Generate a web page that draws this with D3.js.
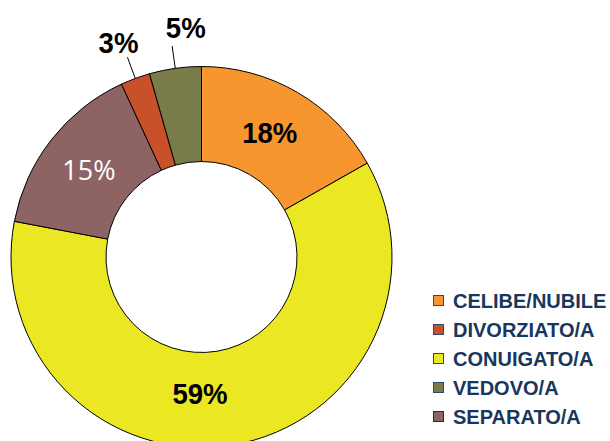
<!DOCTYPE html>
<html>
<head>
<meta charset="utf-8">
<script src="https://cdn.jsdelivr.net/npm/d3@7"></script>
<style>
  body { margin: 0; background: #fff; }
  svg { display: block; }
</style>
</head>
<body>
<svg width="610" height="441"></svg>
<script>
// slices in drawing order (clockwise from 12 o'clock)
const sliceNames = ['CELIBE/NUBILE', 'CONUIGATO/A', 'SEPARATO/A', 'DIVORZIATO/A', 'VEDOVO/A'];
const sliceValues = [16.8, 61.2, 15.1, 2.5, 4.4];
const sliceLabels = ['18%', '59%', '15%', '3%', '5%'];
const sliceColors = ['#F7962F', '#EBE823', '#8E6364', '#C8512A', '#797B48'];

// legend order as in the picture
const legendNames = ['CELIBE/NUBILE', 'DIVORZIATO/A', 'CONUIGATO/A', 'VEDOVO/A', 'SEPARATO/A'];

const svg = d3.select('svg');
const cx = 201.5, cy = 257;
const outerR = 190.5, innerR = 95.5;

const color = d3.scaleOrdinal().domain(sliceNames).range(sliceColors);

const pie = d3.pie().sort(null).value(d => d.value);
const arc = d3.arc().innerRadius(innerR).outerRadius(outerR);

const data = sliceNames.map((n, i) => ({ name: n, value: sliceValues[i], label: sliceLabels[i] }));
const arcs = pie(data);

const g = svg.append('g').attr('transform', `translate(${cx},${cy})`);

g.selectAll('path.slice')
    .data(arcs)
    .enter().append('path')
    .attr('class', 'slice')
    .attr('d', arc)
    .attr('fill', d => color(d.data.name))
    .attr('stroke', '#000')
    .attr('stroke-width', 1);

// label tweaks (degrees) and styles
const labelShift = [-1.5, 10, -0.4, -0.8, 4];
const pt = (a, r) => [Math.sin(a) * r, -Math.cos(a) * r];
const rad = Math.PI / 180;

const addLabel = (p, txt, opts) => {
    g.append('text')
        .attr('transform', `translate(${p[0]},${p[1]}) scale(${opts.sx},1)`)
        .attr('dy', '0.36em')
        .attr('text-anchor', 'middle')
        .style('font-family', opts.family)
        .style('font-weight', opts.weight)
        .style('font-size', opts.size)
        .attr('fill', opts.fill)
        .text(txt);
};

const boldOpts = { sx: 0.92, family: '"Liberation Sans", Arial, sans-serif', weight: 'bold', size: '30px', fill: '#000' };

arcs.forEach((d, i) => {
    const mid = (d.startAngle + d.endAngle) / 2;
    const outside = d.data.value < 10;
    const a = mid + labelShift[i] * rad;
    if (outside) {
        const p0 = pt(mid, outerR);
        const p1 = pt(mid, 213);
        g.append('line')
            .attr('x1', p0[0]).attr('y1', p0[1])
            .attr('x2', p1[0]).attr('y2', p1[1])
            .attr('stroke', '#000')
            .attr('stroke-width', 1);
        addLabel(pt(a, 230), d.data.label, boldOpts);
    } else if (d.data.name === 'SEPARATO/A') {
        addLabel(pt(a, 142), d.data.label,
            { sx: 1, family: '"Open Sans", sans-serif', weight: 'normal', size: '27px', fill: '#fff' });
    } else {
        const r = d.data.name === 'CONUIGATO/A' ? 136 : 142;
        addLabel(pt(a, r), d.data.label, boldOpts);
    }
});

// legend
const legend = svg.append('g').attr('transform', 'translate(433,301)');
const rowStep = 29;
const item = legend.selectAll('g.item')
    .data(legendNames)
    .enter().append('g')
    .attr('class', 'item')
    .attr('transform', (d, i) => `translate(0,${i * rowStep})`);

item.append('rect')
    .attr('x', 0.5).attr('y', -5.5)
    .attr('width', 10).attr('height', 10)
    .attr('fill', d => color(d))
    .attr('stroke', d => d === 'SEPARATO/A' ? '#2a2a2a' : '#2E4B6B')
    .attr('stroke-width', 1);

item.append('text')
    .attr('x', 20)
    .attr('y', 0)
    .attr('dy', '0.36em')
    .style('font-family', '"Liberation Sans", Arial, sans-serif')
    .style('font-weight', 'bold')
    .style('font-size', '20px')
    .attr('fill', '#17375E')
    .text(d => d);
</script>
</body>
</html>
